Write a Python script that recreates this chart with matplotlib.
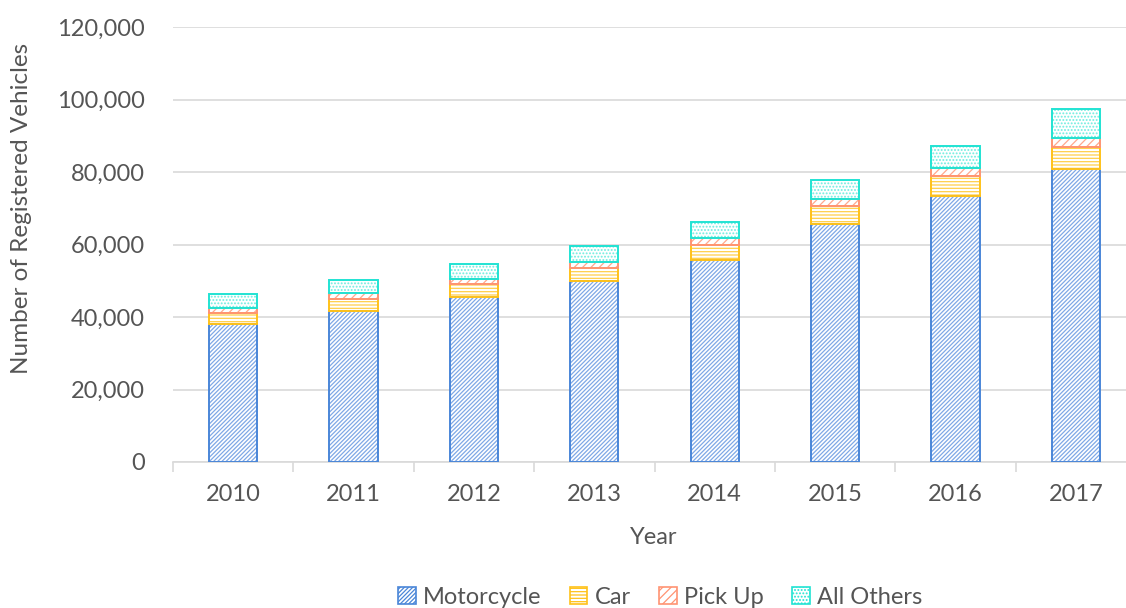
import matplotlib
matplotlib.use("Agg")
import matplotlib.pyplot as plt
from matplotlib.patches import Patch
from matplotlib.ticker import FuncFormatter, FixedLocator
import numpy as np

years = ["2010", "2011", "2012", "2013", "2014", "2015", "2016", "2017"]
motorcycle = [38000, 41700, 45600, 49900, 55600, 65600, 73400, 80900]
car = [3000, 3200, 3400, 3700, 4200, 4900, 5400, 5900]
pick_up = [1600, 1600, 1500, 1700, 2000, 2100, 2300, 2700]
all_others = [3700, 3800, 4200, 4300, 4300, 5300, 6200, 7800]

series_names = ["Motorcycle", "Car", "Pick Up", "All Others"]
edge_colors = ["#4a86d8", "#ffc21a", "#ff9473", "#21e3d3"]
hatch_colors = ["#7ea8e6", "#ffcf4a", "#ffa88d", "#6eece0"]
hatches = ["////////", "-----", "////", "....."]

plt.rcParams["font.family"] = ["Lato", "DejaVu Sans"]
plt.rcParams["hatch.linewidth"] = 0.9

text_color = "#555555"
grid_color = "#d9d9d9"
fsize = 17


def main():
    fig = plt.figure(figsize=(11.26, 6.08), dpi=100)
    ax = fig.add_axes([173 / 1126, 1 - 462 / 608, 963 / 1126, 435 / 608])

    x = np.arange(len(years))
    width = 0.4
    bottom = np.zeros(len(years))
    for vals, ec, hc, h in zip([motorcycle, car, pick_up, all_others],
                               edge_colors, hatch_colors, hatches):
        vals = np.array(vals)
        ax.bar(x, vals, width, bottom=bottom, color="white", edgecolor=hc,
               hatch=h, linewidth=0, zorder=3)
        ax.bar(x, vals, width, bottom=bottom, fill=False, edgecolor=ec,
               linewidth=1.4, zorder=4)
        bottom += vals

    ax.set_xlim(-0.5, 7.5)
    ax.set_ylim(0, 120000)
    ax.set_yticks(np.arange(0, 120001, 20000))
    ax.yaxis.set_major_formatter(FuncFormatter(lambda v, p: f"{int(v):,}"))
    ax.yaxis.grid(True, color=grid_color, linewidth=1.2, zorder=0)
    ax.set_axisbelow(True)

    ax.set_xticks(x)
    ax.set_xticklabels(years)
    ax.xaxis.set_minor_locator(FixedLocator(np.arange(-0.5, 8, 1)))
    ax.tick_params(axis="x", which="major", length=0, pad=16,
                   labelsize=fsize, labelcolor=text_color)
    ax.tick_params(axis="x", which="minor", length=7, width=1.2,
                   color=grid_color, direction="out")
    ax.tick_params(axis="y", length=0, pad=20, labelsize=fsize,
                   labelcolor=text_color)

    for side in ["top", "right", "left"]:
        ax.spines[side].set_visible(False)
    ax.spines["bottom"].set_color(grid_color)
    ax.spines["bottom"].set_linewidth(1.2)

    fig.text(654 / 1126, 1 - 538 / 608, "Year", ha="center", va="center",
             fontsize=fsize, color=text_color)
    fig.text(22 / 1126, 1 - 208 / 608, "Number of Registered Vehicles",
             ha="center", va="center", rotation=90, fontsize=fsize + 0.5,
             color=text_color)

    handles = [Patch(facecolor="white", edgecolor=ec, hatch=h, linewidth=1.2,
                     label=n)
               for n, ec, h in zip(series_names, edge_colors, hatches)]
    fig.legend(handles=handles, loc="center", bbox_to_anchor=(660 / 1126, 1 - 597 / 608),
               ncol=4, frameon=False, fontsize=fsize, labelcolor=text_color,
               handlelength=0.75, handleheight=0.75, handletextpad=0.3,
               columnspacing=1.2)

    fig.savefig("out.png", dpi=100)


if __name__ == "__main__":
    main()
